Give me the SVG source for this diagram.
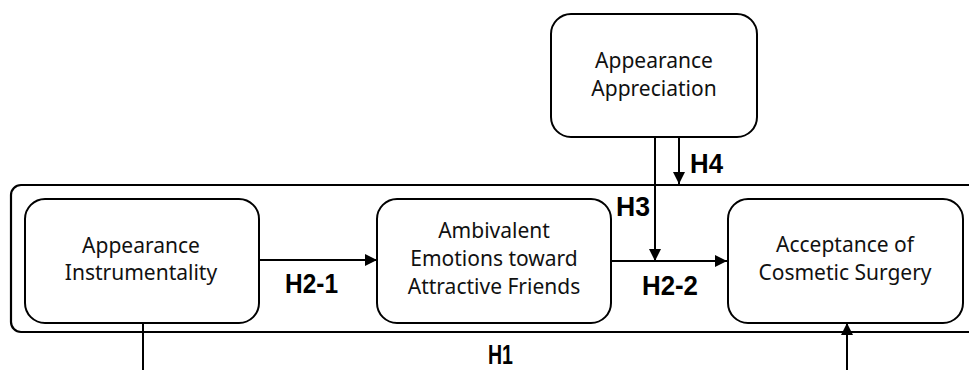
<svg xmlns="http://www.w3.org/2000/svg" width="969" height="370" viewBox="0 0 969 370">
<defs>
<marker id="ah" viewBox="0 0 12 12" refX="12" refY="6" markerWidth="12" markerHeight="12" markerUnits="userSpaceOnUse" orient="auto">
<path d="M0,0 L12,6 L0,12 Z" fill="#000"/>
</marker>
</defs>
<style>
.box{fill:#fff;stroke:#000;stroke-width:2}
.frame{fill:none;stroke:#000;stroke-width:2.2}
.t{font-family:"Noto Sans","DejaVu Sans",sans-serif;font-size:21px;fill:#111;text-anchor:middle}
.lbl{font-family:"Liberation Sans",Arial,sans-serif;font-weight:bold;font-size:27px;fill:#000}
.c{fill:none;stroke:#000;stroke-width:2}
</style>
<rect width="969" height="370" fill="#fff"/>
<g id="frame"><rect class="frame" x="11" y="185" width="980" height="147" rx="10"/></g>
<g id="appreciation">
<rect class="box" x="551" y="14" width="206" height="123" rx="20"/>
<text class="t" x="654" y="68">Appearance</text>
<text class="t" x="654" y="96">Appreciation</text>
</g>
<g id="instrumentality">
<rect class="box" x="25" y="199" width="234" height="124" rx="20"/>
<text class="t" x="141" y="253">Appearance</text>
<text class="t" x="141" y="280">Instrumentality</text>
</g>
<g id="ambivalent">
<rect class="box" x="377" y="199" width="234" height="124" rx="20"/>
<text class="t" x="494" y="238">Ambivalent</text>
<text class="t" x="494" y="266">Emotions toward</text>
<text class="t" x="494" y="294">Attractive Friends</text>
</g>
<g id="acceptance">
<rect class="box" x="728" y="199" width="235" height="124" rx="20"/>
<text class="t" x="845" y="252">Acceptance of</text>
<text class="t" x="845" y="280">Cosmetic Surgery</text>
</g>
<g id="connectors">
<line class="c" x1="259" y1="260" x2="377" y2="260" marker-end="url(#ah)"/>
<line class="c" x1="611" y1="261" x2="727" y2="261" marker-end="url(#ah)"/>
<line class="c" x1="655" y1="137" x2="655" y2="261" marker-end="url(#ah)"/>
<line class="c" x1="679" y1="137" x2="679" y2="184" marker-end="url(#ah)"/>
<line class="c" x1="143" y1="323" x2="143" y2="372"/>
<line class="c" x1="847" y1="372" x2="847" y2="323" marker-end="url(#ah)"/>
</g>
<g id="labels">
<text class="lbl" x="285" y="293" textLength="53" lengthAdjust="spacingAndGlyphs">H2-1</text>
<text class="lbl" x="642" y="295" textLength="56" lengthAdjust="spacingAndGlyphs">H2-2</text>
<text class="lbl" x="616" y="216" textLength="34" lengthAdjust="spacingAndGlyphs">H3</text>
<text class="lbl" x="690" y="173" textLength="33" lengthAdjust="spacingAndGlyphs">H4</text>
<text class="lbl" x="488" y="364" font-size="25" textLength="25" lengthAdjust="spacingAndGlyphs">H1</text>
</g>
</svg>
